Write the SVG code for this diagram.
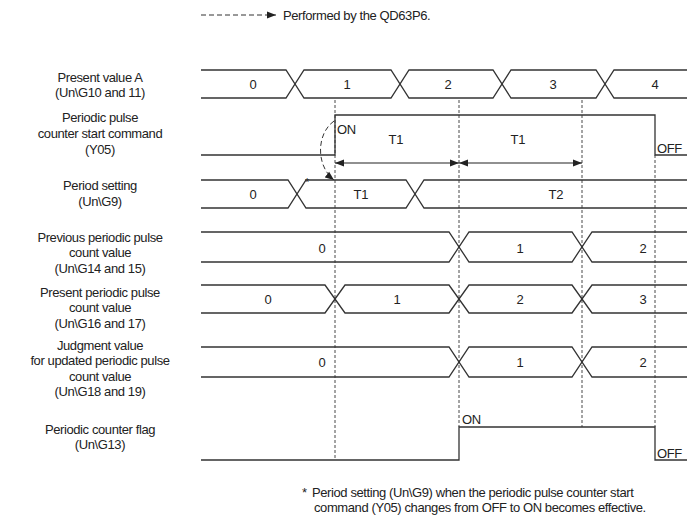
<svg xmlns="http://www.w3.org/2000/svg" width="687" height="522" viewBox="0 0 687 522">
<style>
text{font-family:"Liberation Sans",Arial,sans-serif;font-size:13px;letter-spacing:-0.4px;fill:#222}
.lbl{text-anchor:middle}
.val{text-anchor:middle;letter-spacing:0}
.sig{fill:none;stroke:#333;stroke-width:1.3}
.dash{fill:none;stroke:#333;stroke-width:0.9;stroke-dasharray:3,2}
.ldash{fill:none;stroke:#333;stroke-width:1;stroke-dasharray:5,3}
.arr{fill:none;stroke:#222;stroke-width:1.2}
</style>
<defs>
<marker id="ah" viewBox="0 0 10 10" refX="10" refY="5" markerWidth="9" markerHeight="9" markerUnits="userSpaceOnUse" orient="auto-start-reverse">
<path d="M0,1 L10,5 L0,9 z" fill="#222"/>
</marker>
</defs>

<g id="legend">
<line x1="201" y1="15" x2="276" y2="15" class="ldash" marker-end="url(#ah)"/>
<text x="283" y="20">Performed by the QD63P6.</text>
</g>

<g id="connectors">
<line x1="335" y1="100" x2="335" y2="460" class="dash"/>
<line x1="459" y1="100" x2="459" y2="427" class="dash"/>
<line x1="582" y1="100" x2="582" y2="427" class="dash"/>
<line x1="655" y1="155" x2="655" y2="427" class="dash"/>
<path d="M334,121 C316,134 316,166 334,180" class="ldash" marker-end="url(#ah)"/>
<line x1="335" y1="163" x2="459" y2="163" class="arr" marker-start="url(#ah)" marker-end="url(#ah)"/>
<line x1="459" y1="163" x2="582" y2="163" class="arr" marker-start="url(#ah)" marker-end="url(#ah)"/>
</g>

<g id="row-present-value-a">
<text class="lbl" x="100" y="82">Present value A</text>
<text class="lbl" x="100" y="97">(Un\G10 and 11)</text>
<path class="sig" d="M201,70 H286 L304,98 H391 L409,70 H493 L511,98 H596 L614,70 H687"/>
<path class="sig" d="M201,98 H286 L304,70 H391 L409,98 H493 L511,70 H596 L614,98 H687"/>
<text class="val" x="253" y="89">0</text>
<text class="val" x="347" y="89">1</text>
<text class="val" x="448" y="89">2</text>
<text class="val" x="553" y="89">3</text>
<text class="val" x="655" y="89">4</text>
</g>

<g id="row-start-command">
<text class="lbl" x="100" y="122">Periodic pulse</text>
<text class="lbl" x="100" y="138">counter start command</text>
<text class="lbl" x="100" y="154">(Y05)</text>
<path class="sig" d="M201,155 H335 V115 H655 V155 H687"/>
<text x="337" y="134">ON</text>
<text x="657" y="153">OFF</text>
<text class="val" x="396" y="144">T1</text>
<text class="val" x="518" y="144">T1</text>
<text x="305" y="186" style="font-size:11px">*</text>
</g>

<g id="row-period-setting">
<text class="lbl" x="100" y="190">Period setting</text>
<text class="lbl" x="100" y="206">(Un\G9)</text>
<path class="sig" d="M201,180 H288 L306,208 H406 L424,180 H687"/>
<path class="sig" d="M201,208 H288 L306,180 H406 L424,208 H687"/>
<text class="val" x="253" y="199">0</text>
<text class="val" x="361" y="199">T1</text>
<text class="val" x="556" y="199">T2</text>
</g>

<g id="row-previous-count">
<text class="lbl" x="100" y="242">Previous periodic pulse</text>
<text class="lbl" x="100" y="257">count value</text>
<text class="lbl" x="100" y="273">(Un\G14 and 15)</text>
<path class="sig" d="M201,232 H449 L469,262 H572 L592,232 H687"/>
<path class="sig" d="M201,262 H449 L469,232 H572 L592,262 H687"/>
<text class="val" x="322" y="253">0</text>
<text class="val" x="520" y="253">1</text>
<text class="val" x="643" y="253">2</text>
</g>

<g id="row-present-count">
<text class="lbl" x="100" y="297">Present periodic pulse</text>
<text class="lbl" x="100" y="312">count value</text>
<text class="lbl" x="100" y="328">(Un\G16 and 17)</text>
<path class="sig" d="M201,285 H325 L345,313 H449 L469,285 H572 L592,313 H687"/>
<path class="sig" d="M201,313 H325 L345,285 H449 L469,313 H572 L592,285 H687"/>
<text class="val" x="268" y="304">0</text>
<text class="val" x="397" y="304">1</text>
<text class="val" x="520" y="304">2</text>
<text class="val" x="643" y="304">3</text>
</g>

<g id="row-judgment">
<text class="lbl" x="100" y="350">Judgment value</text>
<text class="lbl" x="100" y="365">for updated periodic pulse</text>
<text class="lbl" x="100" y="381">count value</text>
<text class="lbl" x="100" y="396">(Un\G18 and 19)</text>
<path class="sig" d="M201,347 H449 L469,377 H572 L592,347 H687"/>
<path class="sig" d="M201,377 H449 L469,347 H572 L592,377 H687"/>
<text class="val" x="322" y="367">0</text>
<text class="val" x="520" y="367">1</text>
<text class="val" x="643" y="367">2</text>
</g>

<g id="row-counter-flag">
<text class="lbl" x="100" y="434">Periodic counter flag</text>
<text class="lbl" x="100" y="449">(Un\G13)</text>
<path class="sig" d="M201,460 H459 V427 H655 V460 H687"/>
<text x="462" y="424">ON</text>
<text x="657" y="458">OFF</text>
</g>

<g id="footnote">
<text x="302" y="497">*</text>
<text x="312" y="497">Period setting (Un\G9) when the periodic pulse counter start</text>
<text x="314" y="512">command (Y05) changes from OFF to ON becomes effective.</text>
</g>
</svg>
